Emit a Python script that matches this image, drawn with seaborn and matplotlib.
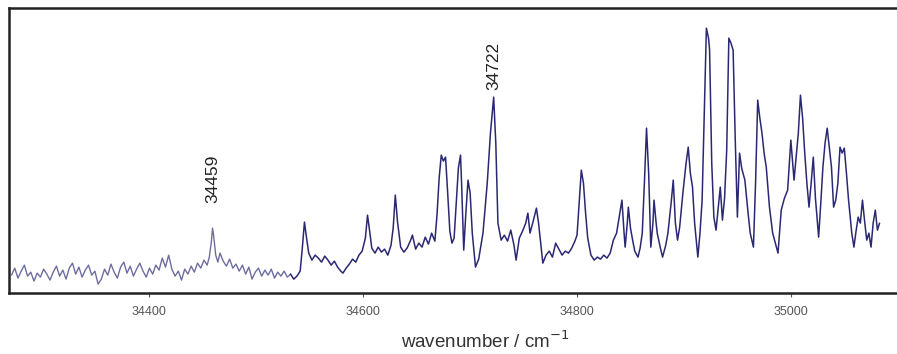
import matplotlib
matplotlib.use("Agg")
import matplotlib.pyplot as plt
import seaborn as sns
import numpy as np

# --- low-resolution scan (below 34532 cm-1) ---
wn_low = [34271, 34274, 34277, 34280, 34283, 34286, 34289, 34292, 34295, 34298,
          34301, 34304, 34307, 34310, 34313, 34316, 34319, 34322, 34325, 34328,
          34331, 34334, 34337, 34340, 34343, 34346, 34349, 34352, 34355, 34358,
          34361, 34364, 34367, 34370, 34373, 34376, 34379, 34382, 34385, 34388,
          34391, 34394, 34397, 34400, 34403, 34406, 34409, 34412, 34415, 34418,
          34421, 34424, 34427, 34430, 34433, 34436, 34439, 34442, 34445, 34448,
          34451, 34454, 34456, 34458, 34459, 34460, 34462, 34464, 34466, 34469,
          34472, 34475, 34478, 34481, 34484, 34487, 34490, 34493, 34496, 34499,
          34502, 34505, 34508, 34511, 34514, 34517, 34520, 34523, 34526, 34529,
          34532]
int_low = [18, 25, 15, 22, 28, 17, 21, 12, 20, 16,
           24, 19, 13, 21, 27, 17, 23, 14, 25, 30,
           19, 26, 16, 23, 28, 18, 22, 9, 14, 24,
           18, 29, 21, 15, 26, 31, 20, 27, 17, 24,
           30, 22, 16, 25, 19, 28, 23, 35, 26, 38,
           24, 17, 22, 13, 24, 19, 27, 21, 30, 25,
           33, 28, 36, 52, 65, 58, 38, 31, 40, 32,
           27, 34, 25, 29, 22, 28, 19, 26, 14, 21,
           25, 17, 23, 18, 24, 15, 21, 17, 22, 16,
           19]

# --- high-resolution scan (34532 cm-1 and above) ---
wn_high = [34532, 34535, 34538, 34541, 34543, 34545, 34547, 34549, 34552, 34555,
           34558, 34561, 34564, 34567, 34570, 34573, 34576, 34579, 34581, 34584,
           34587, 34590, 34593, 34596, 34599, 34602, 34604, 34606, 34608, 34611,
           34614, 34617, 34620, 34623, 34626, 34628, 34630, 34632, 34635, 34638,
           34641, 34644, 34646, 34649, 34652, 34655, 34658, 34661, 34664, 34667,
           34669, 34671, 34673, 34675, 34677, 34679, 34681, 34683, 34685, 34687,
           34689, 34691, 34692, 34694, 34696, 34698, 34700, 34702, 34705, 34708,
           34712, 34716, 34719, 34722, 34724, 34726, 34729, 34732, 34735, 34738,
           34741, 34743, 34746, 34749, 34752, 34754, 34756, 34759, 34762, 34764,
           34766, 34768, 34771, 34774, 34777, 34780, 34783, 34786, 34789, 34792,
           34795, 34798, 34800, 34802, 34804, 34806, 34808, 34810, 34813, 34816,
           34819, 34822, 34825, 34828, 34831, 34834, 34837, 34840, 34842, 34844,
           34845, 34847, 34848, 34850, 34852, 34854, 34857, 34859, 34861, 34863,
           34865, 34867, 34869, 34871, 34872, 34874, 34875, 34878, 34880, 34883,
           34885, 34888, 34890, 34892, 34894, 34896, 34899, 34902, 34904, 34906,
           34908, 34910, 34913, 34915, 34917, 34919, 34921, 34923, 34924, 34926,
           34928, 34930, 34932, 34934, 34936, 34938, 34940, 34942, 34944, 34946,
           34948, 34950, 34952, 34954, 34957, 34960, 34962, 34965, 34967, 34969,
           34971, 34973, 34975, 34977, 34980, 34983, 34986, 34988, 34991, 34994,
           34997, 35000, 35003, 35005, 35007, 35009, 35011, 35013, 35015, 35017,
           35019, 35021, 35023, 35026, 35028, 35030, 35032, 35034, 35036, 35038,
           35040, 35042, 35044, 35046, 35048, 35050, 35052, 35054, 35057, 35059,
           35061, 35063, 35065, 35067, 35069, 35071, 35073, 35075, 35077, 35079,
           35081, 35083]
int_high = [19, 14, 17, 22, 45, 71, 55, 40, 33, 38,
            35, 31, 37, 33, 28, 32, 26, 22, 20, 25,
            29, 34, 31, 38, 42, 55, 78, 62, 45, 40,
            46, 41, 44, 38, 48, 65, 98, 72, 46, 41,
            45, 52, 58, 44, 50, 46, 56, 49, 60, 52,
            78, 115, 138, 132, 136, 100, 62, 50, 55, 90,
            125, 138, 110, 43, 80, 113, 100, 60, 26, 34,
            60, 110, 160, 196, 150, 70, 53, 58, 52, 63,
            48, 33, 55, 62, 70, 80, 60, 72, 85, 70,
            50, 30, 38, 42, 36, 50, 44, 38, 42, 40,
            45, 52, 58, 90, 123, 110, 80, 55, 38, 33,
            36, 34, 38, 35, 40, 53, 60, 80, 93, 60,
            46, 70, 86, 65, 53, 42, 36, 45, 60, 110,
            165, 120, 46, 70, 93, 70, 60, 45, 36, 48,
            60, 90, 113, 70, 53, 66, 100, 130, 146, 120,
            106, 70, 36, 60, 93, 180, 265, 255, 243, 130,
            76, 63, 85, 106, 73, 95, 143, 255, 250, 243,
            153, 76, 140, 125, 113, 80, 60, 46, 110, 193,
            175, 160, 140, 126, 86, 60, 48, 40, 83, 95,
            103, 153, 113, 136, 160, 198, 175, 140, 110, 86,
            110, 136, 95, 56, 90, 126, 150, 165, 145, 126,
            86, 93, 110, 146, 140, 145, 120, 93, 60, 46,
            62, 76, 70, 93, 72, 53, 60, 46, 70, 83,
            63, 70]

# labelled band origins
peak_pos = [34459, 34722]
peak_lab = ["34459", "34722"]
peak_txt_y = [90, 203]

tick_vals = [34400, 34600, 34800, 35000]
tick_lab = ["34400", "34600", "34800", "35000"]

sns.set_style("white")
plt.rcParams["font.family"] = ["Liberation Sans", "DejaVu Sans"]

fig = plt.figure(figsize=(8.97, 3.54), dpi=100)
ax = fig.add_axes([0.010, 0.172, 0.995, 0.805])

sns.lineplot(x=wn_low, y=int_low, ax=ax, color="#6e6d9f", linewidth=1.0,
             estimator=None)
sns.lineplot(x=wn_high, y=int_high, ax=ax, color="#2b2873", linewidth=1.1,
             estimator=None)

for x, lab, ty in zip(peak_pos, peak_lab, peak_txt_y):
    ax.text(x, ty, lab, rotation=90, ha="center", va="bottom",
            fontsize=12.5, color="#222222")

ax.set_xlim(34268.6, 35103.5)
ax.set_ylim(0, 285)
ax.set_yticks([])
ax.set_xticks(tick_vals)
ax.set_xticklabels(tick_lab)
ax.tick_params(axis="x", direction="out", length=3, width=0.8, pad=6,
               labelsize=9, colors="#555555", bottom=True)

for side in ["left", "right", "top", "bottom"]:
    ax.spines[side].set_color("#222222")
    ax.spines[side].set_linewidth(1.8)

ax.set_xlabel("wavenumber / cm$^{-1}$", fontsize=13.5, color="#333333")
ax.xaxis.label.set_verticalalignment("center")
ax.xaxis.set_label_coords(0.534, -0.168)

fig.savefig("out.png", dpi=100)
